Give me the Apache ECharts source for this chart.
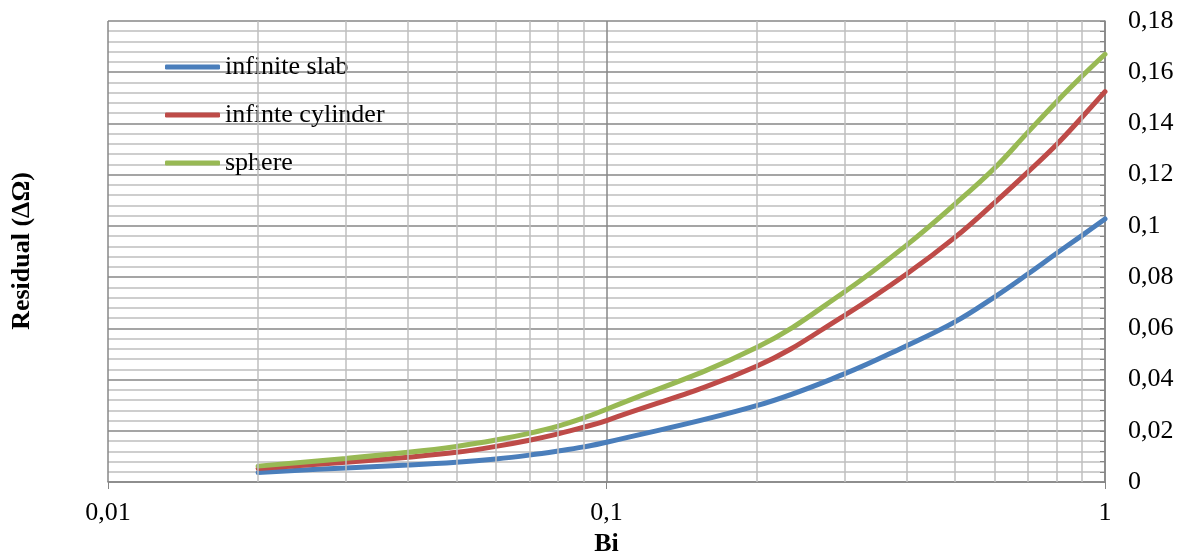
<!DOCTYPE html>
<html>
<head>
<meta charset="utf-8">
<script src="https://cdn.jsdelivr.net/npm/echarts@6/dist/echarts.min.js"></script>
<style>
html,body{margin:0;padding:0;background:#fff;}
#chart{width:1181px;height:557px;}
</style>
</head>
<body>
<div id="chart"></div>
<script>
// ---- data ----
const biValues = [0.02,0.03,0.04,0.05,0.06,0.07,0.08,0.09,0.1,0.2,0.3,0.4,0.5,0.6,0.7,0.8,0.9,1];
const slab     = [0.0037,0.0055,0.0066,0.0077,0.0090,0.0105,0.0121,0.0137,0.0155,0.0298,0.0422,0.0532,0.0625,0.0722,0.0812,0.0893,0.0963,0.1027];
const cylinder = [0.0053,0.0077,0.0097,0.0116,0.0139,0.0163,0.0188,0.0214,0.0240,0.0452,0.0650,0.0812,0.0955,0.1090,0.1210,0.1318,0.1425,0.1524];
const sphere   = [0.0062,0.0092,0.0116,0.0139,0.0164,0.0190,0.0218,0.0250,0.0284,0.0525,0.0742,0.0925,0.1085,0.1225,0.1365,0.1485,0.1585,0.1670];
const seriesNames = ['infinite slab','infinte cylinder','sphere'];
const minorXTicks = [0.02,0.03,0.04,0.05,0.06,0.07,0.08,0.09,0.2,0.3,0.4,0.5,0.6,0.7,0.8,0.9];
const xAxisTitle = 'Bi';
const yAxisTitle = 'Residual (ΔΩ)';

const FONT = "'Liberation Serif','Times New Roman',serif";
const colors = ['#4A7EBB','#BE4B48','#98B954'];
const pairs = arr => biValues.map((x,i)=>[x,arr[i]]);
const fmt = v => String(+(+v).toPrecision(6)).replace('.', ',');

const chart = echarts.init(document.getElementById('chart'));
chart.setOption({
  animation:false,
  backgroundColor:'#fff',
  grid:{left:108,right:76,top:21,bottom:75,containLabel:false,outerBoundsMode:'none'},
  legend:{
    orient:'vertical', left:160, top:49,
    icon:'roundRect',
    itemWidth:55, itemHeight:5, itemGap:22,
    data:seriesNames,
    textStyle:{fontFamily:FONT,fontSize:26,color:'#000'}
  },
  xAxis:{
    type:'log', logBase:10, min:0.01, max:1, splitNumber:2,
    name:xAxisTitle, nameLocation:'middle', nameGap:48,
    nameTextStyle:{fontFamily:FONT,fontSize:26,fontWeight:'bold',color:'#000'},
    axisLine:{show:true,lineStyle:{color:'#868686',width:1.5}},
    axisTick:{show:true,length:7,lineStyle:{color:'#868686'}},
    axisLabel:{fontFamily:FONT,fontSize:26,color:'#000',margin:18,formatter:fmt},
    splitLine:{show:true,lineStyle:{color:'#878787',width:1.5}},
    minorTick:{show:false},
    minorSplitLine:{show:false}
  },
  yAxis:{
    type:'value', position:'right', min:0, max:0.18, interval:0.02,
    axisLine:{show:true,lineStyle:{color:'#868686',width:1.5}},
    axisTick:{show:true,inside:true,length:5,lineStyle:{color:'#868686'}},
    minorTick:{show:true,splitNumber:5,length:5,lineStyle:{color:'#868686'}},
    axisLabel:{fontFamily:FONT,fontSize:26,color:'#000',margin:23,formatter:fmt},
    splitLine:{show:true,lineStyle:{color:'#878787',width:1.5}},
    minorSplitLine:{show:true,lineStyle:{color:'#BFBFBF',width:1.5}}
  },
  graphic:[{
    type:'text', x:22, y:251, rotation:Math.PI/2,
    style:{text:yAxisTitle,fontFamily:FONT,fontSize:26,fontWeight:'bold',fill:'#000',align:'center',verticalAlign:'middle'}
  }],
  series:[
    {
      type:'line', name:'_grid', data:[], z:1, silent:true,
      markLine:{
        silent:true, symbol:['none','none'], animation:false,
        label:{show:false},
        lineStyle:{color:'#BFBFBF',width:1.5,type:'solid'},
        emphasis:{disabled:true},
        data:minorXTicks.map(v=>({xAxis:v}))
      }
    },
    ...[slab,cylinder,sphere].map((arr,i)=>({
      type:'line', name:seriesNames[i], data:pairs(arr),
      symbol:'none', smooth:0.4, z:3,
      color:colors[i],
      lineStyle:{width:5,color:colors[i],cap:'round'}
    }))
  ]
});
</script>
</body>
</html>
